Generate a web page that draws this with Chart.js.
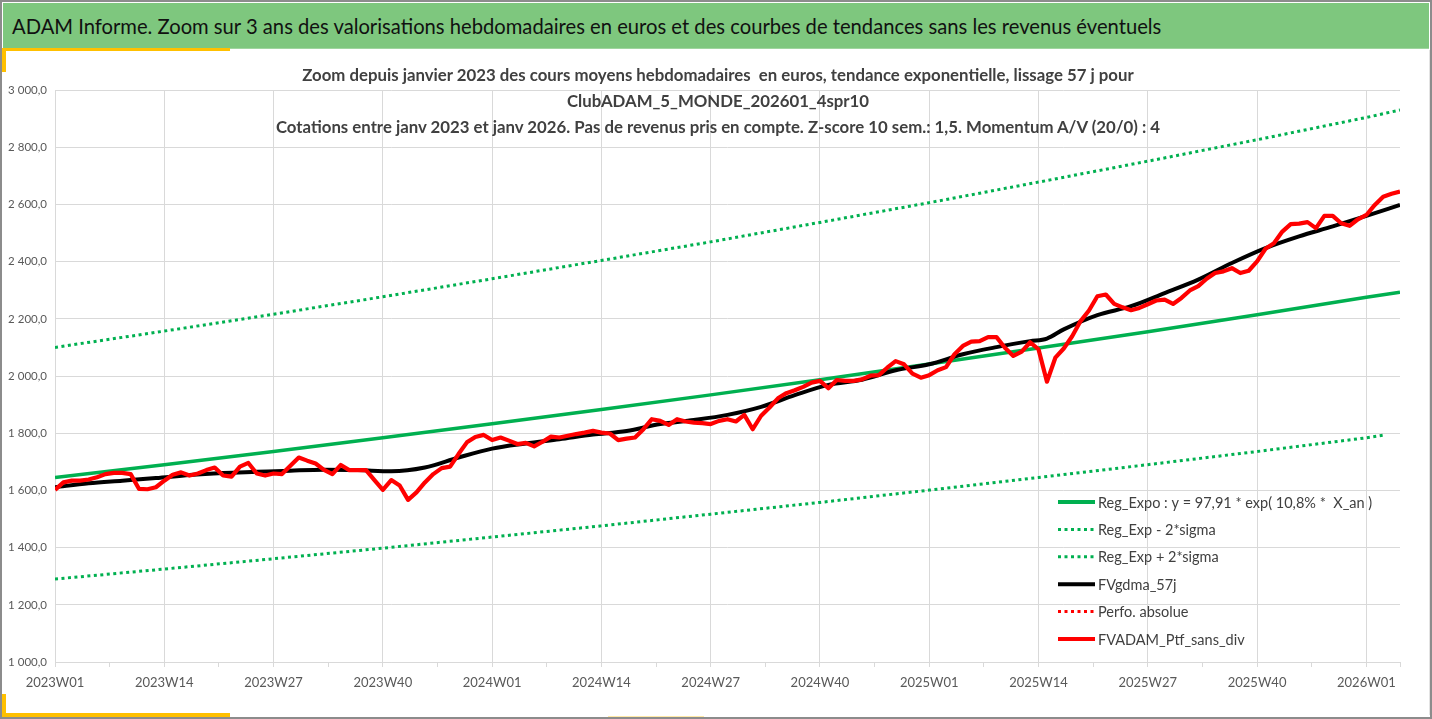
<!DOCTYPE html>
<html lang="fr">
<head>
<meta charset="utf-8">
<title>ADAM Informe - Zoom 3 ans</title>
<script src="https://cdn.jsdelivr.net/npm/chart.js@4.4.1/dist/chart.umd.min.js"></script>
<style>
    html, body {
        margin: 0;
        padding: 0;
        background: #ffffff;
    }
    .frame {
        position: relative;
        width: 1432px;
        height: 719px;
        box-sizing: border-box;
        border: 2px solid #8c8c8c;
        overflow: hidden;
        font-family: Lato, "Open Sans", sans-serif;
    }
    .header {
        position: absolute;
        left: 1px;
        top: 1px;
        width: 1426px;
        height: 46px;
        background: #7ec77e;
        border-bottom: 1px solid #9fd59f;
        color: #111111;
        font-size: 20.2px;
        line-height: 46px;
        padding-left: 9px;
        box-sizing: border-box;
        white-space: nowrap;
    }
    .accent {
        position: absolute;
        background: #ffc000;
    }
    .chart-box {
        position: absolute;
        left: 1px;
        top: 48px;
        width: 1426px;
        height: 665px;
        border-right: 1px solid #e3e3e3;
    }
    .subtitle {
        position: absolute;
        left: 0;
        top: 60px;
        width: 1432px;
        text-align: center;
        color: #404040;
        font-weight: bold;
        font-size: 16.8px;
        line-height: 26px;
        pointer-events: none;
    }
</style>
</head>
<body>
<div class="frame">
    <div class="header">ADAM Informe. Zoom sur 3 ans des valorisations hebdomadaires en euros et des courbes de tendances sans les revenus éventuels</div>
    <div class="accent" style="left:0;top:46px;width:228px;height:3px;"></div>
    <div class="accent" style="left:0;top:46px;width:4px;height:24px;"></div>
    <div class="accent" style="left:0;top:692px;width:4px;height:25px;"></div>
    <div class="accent" style="left:0;top:711px;width:228px;height:6px;"></div>
    <div class="accent" style="left:606px;top:714px;width:96px;height:3px;opacity:0.35;"></div>
    <div class="chart-box"><canvas id="adamChart"></canvas></div>
    <div class="subtitle">
        <div>Zoom depuis janvier 2023 des cours moyens hebdomadaires&nbsp; en euros, tendance exponentielle, lissage 57 j pour</div>
        <div>ClubADAM_5_MONDE_202601_4spr10</div>
        <div>Cotations entre janv 2023 et janv 2026. Pas de revenus pris en compte. Z-score 10 sem.: 1,5. Momentum A/V (20/0) : 4</div>
    </div>
</div>

<script>
// Tick labels of the week axis (one every 13 weeks)
const xTickLabels = ['2023W01', '2023W14', '2023W27', '2023W40', '2024W01', '2024W14', '2024W27',
    '2024W40', '2025W01', '2025W14', '2025W27', '2025W40', '2026W01'];

// Week index 0 = 2023W01 ... 160 = 2026W05
// FVADAM_Ptf_sans_div : weekly value
const ptfValues = [
    1602, 1628, 1634, 1634, 1638, 1646, 1657, 1661, 1661, 1657,
    1605, 1604, 1611, 1634, 1655, 1663, 1652, 1659, 1671, 1680,
    1652, 1648, 1683, 1696, 1659, 1652, 1659, 1657, 1686, 1715,
    1704, 1694, 1672, 1657, 1689, 1671, 1671, 1671, 1636, 1602,
    1636, 1617, 1567, 1593, 1628, 1657, 1678, 1683, 1727, 1768,
    1787, 1794, 1776, 1785, 1774, 1762, 1766, 1754, 1770, 1788,
    1785, 1791, 1797, 1802, 1808, 1802, 1799, 1776, 1781, 1785,
    1814, 1849, 1843, 1829, 1849, 1841, 1837, 1835, 1832, 1843,
    1849, 1841, 1864, 1814, 1861, 1890, 1922, 1940, 1950, 1962,
    1977, 1983, 1957, 1986, 1983, 1983, 1988, 2001, 2003, 2029,
    2052, 2041, 2008, 1994, 2003, 2020, 2031, 2076, 2105, 2120,
    2122, 2136, 2136, 2099, 2070, 2085, 2118, 2093, 1980, 2064,
    2096, 2139, 2192, 2229, 2279, 2285, 2252, 2240, 2230, 2238,
    2251, 2264, 2267, 2252, 2273, 2299, 2314, 2340, 2360, 2366,
    2377, 2360, 2368, 2401, 2445, 2464, 2505, 2531, 2533, 2538,
    2517, 2560, 2560, 2534, 2525, 2548, 2563, 2598, 2627, 2637,
    2645
];

// FVgdma_57j : smoothed curve, read every 4 weeks
const smoothWeeks = [0, 4, 8, 12, 16, 20, 24, 28, 32, 36, 40, 44, 48, 52, 56, 60, 64, 68, 72, 76,
    80, 84, 88, 92, 96, 100, 104, 108, 112, 116, 118, 120, 124, 128, 132, 136, 140, 144, 148, 152, 156, 160];
const smoothValues = [1611, 1625, 1634, 1643, 1654, 1661, 1665, 1669, 1672, 1671, 1667, 1680, 1715, 1746,
    1764, 1779, 1795, 1808, 1832, 1846, 1864, 1892, 1933, 1969, 1987, 2020, 2041, 2076, 2101, 2122,
    2131, 2163, 2213, 2244, 2290, 2337, 2395, 2447, 2488, 2523, 2560, 2598];

// Exponential trend and its +/- 2 sigma band, read every 13 weeks
const trendWeeks = [0, 13, 26, 39, 52, 65, 78, 91, 104, 117, 130, 143, 156, 160];
const trendValues = [1645, 1690, 1736, 1784, 1833, 1883, 1934, 1987, 2042, 2098, 2155, 2214, 2275, 2293];
const trendHigh = [2100, 2157, 2216, 2277, 2340, 2404, 2469, 2537, 2606, 2678, 2751, 2826, 2904, 2930];
const lowWeeks = [0, 13, 26, 39, 52, 65, 78, 91, 104, 117, 130, 143, 156, 158];
const trendLow = [1290, 1325, 1361, 1398, 1437, 1476, 1517, 1558, 1601, 1645, 1690, 1736, 1784, 1793];

const GREEN = '#00b050';
const RED = '#ff0000';
const BLACK = '#000000';
const GRID = '#d9d9d9';
const TEXT = '#595959';

document.addEventListener('DOMContentLoaded', function() {
    initializeChart();
});

function toPoints(xs, ys) {
    return xs.map((x, i) => ({ x: x, y: ys[i] }));
}

// "3 000,0" style labels
function frenchNumber(v) {
    const parts = v.toFixed(1).split('.');
    const intPart = parts[0].replace(/\B(?=(\d{3})+(?!\d))/g, ' ');
    return intPart + ',' + parts[1];
}

// Legend drawn inside the plot area, bottom right
const insideLegend = {
    id: 'insideLegend',
    afterDraw(chart) {
        const ctx = chart.ctx;
        const area = chart.chartArea;
        const x0 = area.right - 342;
        const y0 = area.bottom - 160;
        const rowH = 27.4;

        ctx.save();
        ctx.font = '14.5px Lato';
        ctx.textBaseline = 'middle';
        chart.data.datasets.forEach((ds, k) => {
            const y = y0 + k * rowH;
            ctx.beginPath();
            ctx.strokeStyle = ds.borderColor;
            ctx.lineWidth = ds.borderDash && ds.borderDash.length ? 3 : 4;
            ctx.setLineDash(ds.borderDash || []);
            ctx.moveTo(x0, y);
            ctx.lineTo(x0 + 37, y);
            ctx.stroke();
            ctx.setLineDash([]);
            ctx.fillStyle = '#404040';
            ctx.fillText(ds.label, x0 + 40, y + 1);
        });
        ctx.restore();
    }
};

function initializeChart() {
    const ctx = document.getElementById('adamChart').getContext('2d');
    Chart.defaults.font.family = 'Lato';

    new Chart(ctx, {
        type: 'line',
        data: {
            datasets: [{
                label: 'Reg_Expo : y = 97,91 * exp( 10,8% *  X_an )',
                data: toPoints(trendWeeks, trendValues),
                borderColor: GREEN,
                borderWidth: 3.5,
                order: 3
            }, {
                label: 'Reg_Exp - 2*sigma',
                data: toPoints(lowWeeks, trendLow),
                borderColor: GREEN,
                borderWidth: 3,
                borderDash: [3, 3.5],
                order: 4
            }, {
                label: 'Reg_Exp + 2*sigma',
                data: toPoints(trendWeeks, trendHigh),
                borderColor: GREEN,
                borderWidth: 3,
                borderDash: [3, 3.5],
                order: 4
            }, {
                label: 'FVgdma_57j',
                data: toPoints(smoothWeeks, smoothValues),
                borderColor: BLACK,
                borderWidth: 4,
                cubicInterpolationMode: 'monotone',
                order: 2
            }, {
                label: 'Perfo. absolue',
                data: [],
                borderColor: RED,
                borderWidth: 3,
                borderDash: [3, 3.5],
                order: 5
            }, {
                label: 'FVADAM_Ptf_sans_div',
                data: ptfValues.map((v, i) => ({ x: i, y: v })),
                borderColor: RED,
                borderWidth: 4.2,
                order: 1
            }]
        },
        options: {
            responsive: true,
            maintainAspectRatio: false,
            animation: false,
            layout: {
                padding: { top: 40, right: 29, left: 0, bottom: 0 }
            },
            elements: {
                point: { radius: 0 },
                line: { tension: 0, fill: false, borderJoinStyle: 'round' }
            },
            scales: {
                x: {
                    type: 'linear',
                    bounds: 'data',
                    min: 0,
                    max: 160,
                    afterFit: function(scale) { scale.height = 53; },
                    border: { color: GRID },
                    grid: {
                        color: c => (c.tick && c.tick.value % 13 === 0) ? GRID : 'rgba(0,0,0,0)',
                        tickColor: GRID,
                        tickLength: 5
                    },
                    ticks: {
                        stepSize: 6.5,
                        includeBounds: false,
                        autoSkip: false,
                        maxRotation: 0,
                        padding: 8,
                        color: TEXT,
                        font: { size: 13 },
                        callback: function(value) {
                            const k = value / 13;
                            return Number.isInteger(k) ? xTickLabels[k] : '';
                        }
                    }
                },
                y: {
                    min: 1000,
                    max: 3000,
                    afterFit: function(scale) { scale.width = 52; },
                    border: { display: false },
                    grid: { color: GRID, drawTicks: false },
                    ticks: {
                        stepSize: 200,
                        padding: 8,
                        color: TEXT,
                        font: { size: 11.5 },
                        callback: function(value) { return frenchNumber(value); }
                    }
                }
            },
            plugins: {
                legend: { display: false },
                tooltip: { enabled: false },
                title: { display: false }
            }
        },
        plugins: [insideLegend]
    });
}
</script>
</body>
</html>
